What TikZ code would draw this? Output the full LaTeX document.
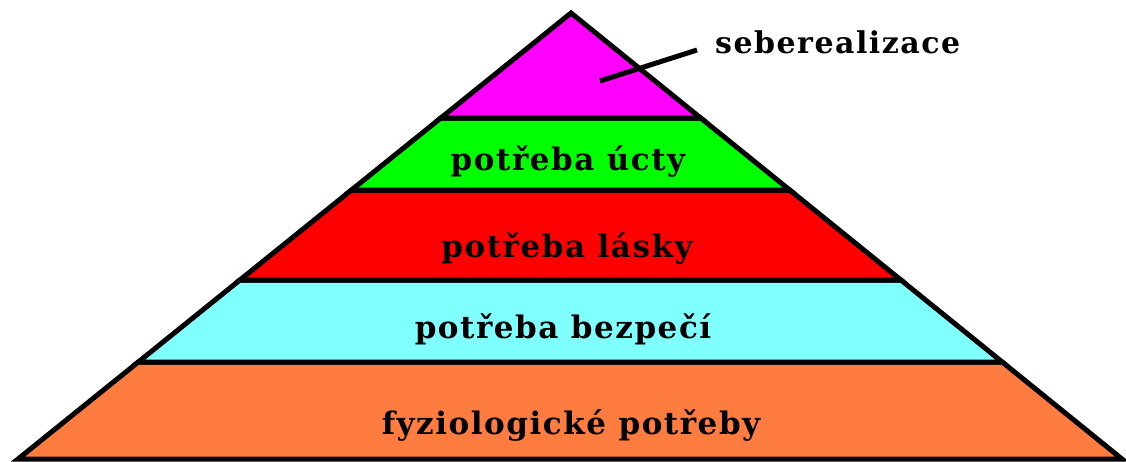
\documentclass[tikz,border=0pt]{standalone}
\usepackage{fontspec}
\newfontfamily\labfont[LetterSpace=5]{DejaVu Serif}
\definecolor{cmag}{RGB}{255,0,255}
\definecolor{cgreen}{RGB}{0,255,0}
\definecolor{cred}{RGB}{255,0,0}
\definecolor{ccyan}{RGB}{128,255,255}
\definecolor{corange}{RGB}{255,124,64}
\tikzset{
  band/.style={draw=black, line width=5pt, line join=miter},
  lab/.style={font=\labfont\bfseries\fontsize{31}{35}\selectfont, inner sep=0pt, anchor=base, text=black},
  leader/.style={draw=black, line width=5pt}
}
\begin{document}
\begin{tikzpicture}[x=1pt,y=-1pt]
\useasboundingbox (0,0) rectangle (1126,461);
% bands
\draw[band, fill=corange] (138.3,362) -- (1002.2,362) -- (1122,459) -- (18,459) -- cycle;
\draw[band, fill=ccyan] (239.9,280) -- (900.9,280) -- (1002.2,362) -- (138.3,362) -- cycle;
\draw[band, fill=cred] (351.5,190) -- (789.7,190) -- (900.9,280) -- (239.9,280) -- cycle;
\draw[band, fill=cgreen] (440.8,118) -- (700.7,118) -- (789.7,190) -- (351.5,190) -- cycle;
\draw[band, fill=cmag] (571,13) -- (700.7,118) -- (440.8,118) -- cycle;
% labels
\node[lab] (ucty) at (568,170) {potřeba úcty};
\node[lab] (lasky) at (567,257) {potřeba lásky};
\node[lab] (bezp) at (563,338) {potřeba bezpečí};
\node[lab] (fyz) at (571,434) {fyziologické potřeby};
\node[lab, anchor=base west, font=\labfont\bfseries\fontsize{30}{33}\selectfont] (seb) at (715,53) {seberealizace};
\coordinate (ls) at (600,81);
\coordinate (le) at (697,50);
\draw[leader] (ls) -- (le);
\end{tikzpicture}
\end{document}
